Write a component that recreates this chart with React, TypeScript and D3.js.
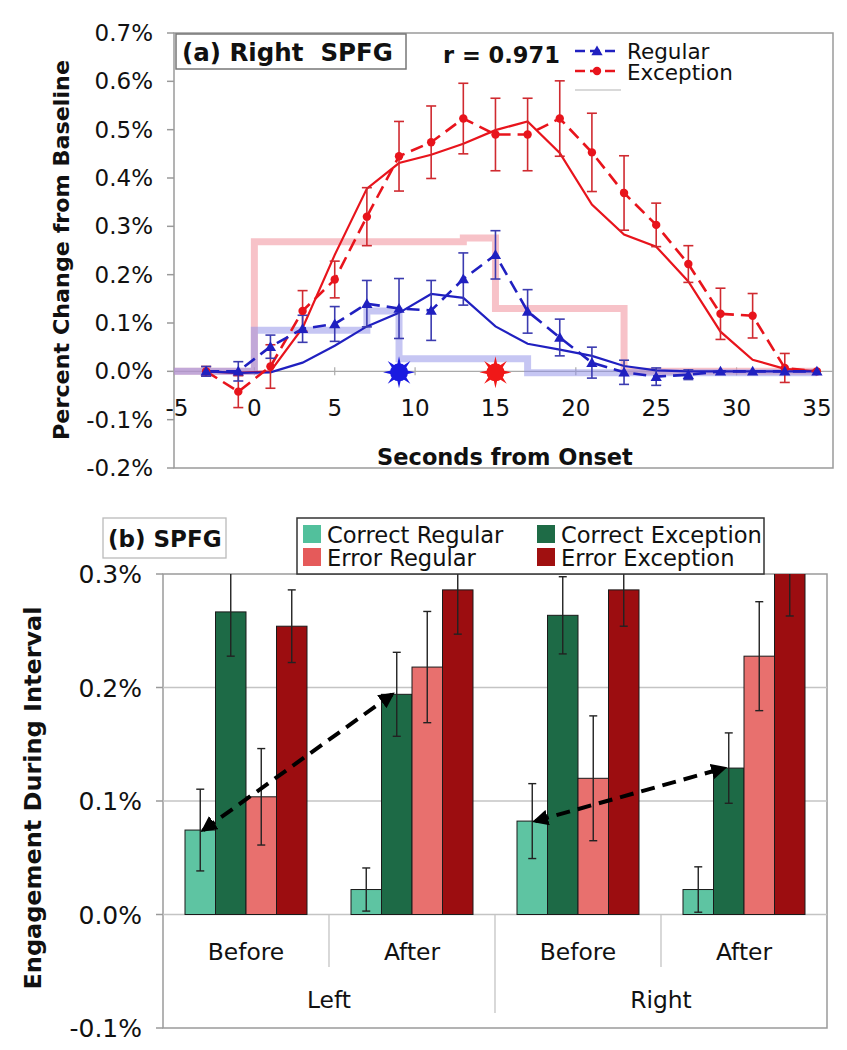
import React from "react";
import * as d3 from "d3";

// ---------- Panel (a) data ----------
const times = [-3, -1, 1, 3, 5, 7, 9, 11, 13, 15, 17, 19, 21, 23, 25, 27, 29, 31, 33, 35];
const excMean = [0, -0.042, 0.01, 0.125, 0.19, 0.32, 0.445, 0.474, 0.523, 0.49, 0.49, 0.523, 0.453, 0.369, 0.303, 0.222, 0.119, 0.115, 0.007, 0.0];
const excErr = [0.01, 0.033, 0.045, 0.042, 0.038, 0.06, 0.072, 0.075, 0.073, 0.075, 0.075, 0.078, 0.081, 0.077, 0.045, 0.038, 0.053, 0.046, 0.03, 0];
const regMean = [0, 0, 0.051, 0.088, 0.098, 0.14, 0.13, 0.126, 0.191, 0.241, 0.124, 0.07, 0.018, -0.002, -0.011, -0.007, 0, 0, 0, 0];
const regErr = [0.01, 0.02, 0.024, 0.028, 0.036, 0.048, 0.062, 0.062, 0.054, 0.05, 0.045, 0.038, 0.032, 0.025, 0.018, 0.01, 0, 0, 0, 0];
const excModel = [0, -0.003, 0, 0.09, 0.241, 0.378, 0.431, 0.448, 0.471, 0.499, 0.517, 0.452, 0.345, 0.283, 0.258, 0.186, 0.082, 0.024, 0.005, 0];
const regModel = [0, -0.003, -0.002, 0.018, 0.053, 0.093, 0.121, 0.16, 0.152, 0.093, 0.057, 0.045, 0.032, 0.011, 0.002, 0, 0, 0, 0, 0];
const excStepT = [-5, 0, 13, 15, 23, 35];
const excStepV = [0, 0.268, 0.276, 0.13, 0, 0];
const regStepT = [-5, 0, 7, 9, 17, 35];
const regStepV = [0, 0.085, 0.125, 0.026, -0.003, -0.003];
const xTicksTop = [-5, 0, 5, 10, 15, 20, 25, 30, 35];
const yTicksTop = [-0.2, -0.1, 0, 0.1, 0.2, 0.3, 0.4, 0.5, 0.6, 0.7];
const regOnset = 9;
const excOnset = 15;

// ---------- Panel (b) data ----------
const intervals = ["Before", "After", "Before", "After"];
const hemis = ["Left", "Right"];
const seriesNames = ["Correct Regular", "Correct Exception", "Error Regular", "Error Exception"];
const correctRegular = [0.0744, 0.022, 0.0823, 0.022];
const correctRegularErr = [0.036, 0.019, 0.033, 0.02];
const correctException = [0.2666, 0.194, 0.2636, 0.129];
const correctExceptionErr = [0.039, 0.037, 0.034, 0.031];
const errorRegular = [0.1037, 0.218, 0.12, 0.2276];
const errorRegularErr = [0.0425, 0.049, 0.055, 0.048];
const errorException = [0.254, 0.286, 0.286, 0.31];
const errorExceptionErr = [0.032, 0.039, 0.032, 0.047];
const yTicksBot = [-0.1, 0, 0.1, 0.2, 0.3];

const FONT = "'DejaVu Sans', Verdana, sans-serif";
const RED = "#e8141c";
const BLUE = "#2020c0";

function starPath(cx: number, cy: number, r1: number, r2: number, n: number) {
  const pts: string[] = [];
  for (let i = 0; i < n * 2; i++) {
    const a = (Math.PI * i) / n - Math.PI / 2;
    const r = i % 2 === 0 ? r2 : r1;
    pts.push(`${cx + r * Math.cos(a)},${cy + r * Math.sin(a)}`);
  }
  return "M" + pts.join("L") + "Z";
}

export default function App() {
  // ----- panel (a) scales -----
  const xT = d3.scaleLinear().domain([-5, 36]).range([174, 833]);
  const yT = d3.scaleLinear().domain([-0.2, 0.7]).range([468, 33]);
  const line = d3
    .line<number>()
    .x((_, i) => xT(times[i]))
    .y((d) => yT(d));
  const stepLine = (ts: number[]) =>
    d3
      .line<number>()
      .curve(d3.curveStepAfter)
      .x((_, i) => xT(ts[i]))
      .y((d) => yT(d));
  const tri = d3.symbol(d3.symbolTriangle, 55)()!;

  // ----- panel (b) scales -----
  const yB = d3.scaleLinear().domain([-0.1, 0.3]).range([1028, 574]);
  const xG = d3.scaleBand<number>().domain([0, 1, 2, 3]).range([163, 827]);
  const xS = d3.scaleBand<number>().domain([0, 1, 2, 3]).range([22, 144]);
  const barVals = [correctRegular, correctException, errorRegular, errorException];
  const barErrs = [correctRegularErr, correctExceptionErr, errorRegularErr, errorExceptionErr];
  const barColors = ["#5ec4a2", "#1d6a46", "#e8706e", "#9c0d10"];
  const swatchColors = ["#52c09c", "#1e6b46", "#e55a5a", "#a01010"];
  const bw = xS.bandwidth();

  const arrowPts = (gFrom: number, gTo: number) => {
    const x1 = xG(gFrom)! + xS(0)! + bw * 0.6;
    const y1 = yB(correctRegular[gFrom]);
    const x2 = xG(gTo)! + xS(1)! + bw * 0.35;
    const y2 = yB(correctException[gTo]);
    return { x1, y1, x2, y2 };
  };
  const a1 = arrowPts(0, 1);
  const a2 = arrowPts(2, 3);

  return (
    <svg
      width={847}
      height={1050}
      style={{ position: "absolute", left: 0, top: 0, background: "#fff" }}
      fontFamily={FONT}
    >
      <defs>
        <clipPath id="clipTop">
          <rect x={174} y={33} width={659} height={435} />
        </clipPath>
        <clipPath id="clipBot">
          <rect x={163} y={574} width={664} height={454} />
        </clipPath>
        <marker id="ah" viewBox="0 0 10 10" refX="8" refY="5" markerWidth="16" markerHeight="16" markerUnits="userSpaceOnUse" orient="auto-start-reverse">
          <path d="M0,0 L10,5 L0,10 Z" fill="#000" />
        </marker>
      </defs>
      <rect x={0} y={0} width={847} height={1050} fill="#fff" />

      {/* ================= Panel (a) ================= */}
      <rect x={174} y={33} width={659} height={435} fill="none" stroke="#9a9a9a" strokeWidth={1.5} />
      {/* y ticks + labels */}
      {yTicksTop.map((t) => (
        <g key={"yt" + t}>
          <line x1={167} x2={174} y1={yT(t)} y2={yT(t)} stroke="#9a9a9a" strokeWidth={1.5} />
          <text x={153} y={yT(t) + 8} textAnchor="end" fontSize={23} fill="#111">
            {t.toFixed(1) + "%"}
          </text>
        </g>
      ))}
      {/* zero axis */}
      <line x1={174} x2={833} y1={yT(0)} y2={yT(0)} stroke="#aaaaaa" strokeWidth={1.2} />
      {xTicksTop.map((t) => (
        <g key={"xt" + t}>
          <line x1={xT(t)} x2={xT(t)} y1={yT(0) - 4} y2={yT(0) + 4} stroke="#aaaaaa" strokeWidth={1.2} />
          <text x={xT(t) + (t < 0 ? 3 : 0)} y={yT(0) + 45} textAnchor="middle" fontSize={23} fill="#111">
            {t}
          </text>
        </g>
      ))}

      <g clipPath="url(#clipTop)">
        {/* step (stimulus) lines */}
        <path d={stepLine(excStepT)(excStepV)!} fill="none" stroke="#f29aa4" strokeOpacity={0.6} strokeWidth={7} />
        <path d={stepLine(regStepT)(regStepV)!} fill="none" stroke="#8d8de8" strokeOpacity={0.5} strokeWidth={7} />

        {/* model lines */}
        <path d={line(excModel)!} fill="none" stroke={RED} strokeWidth={2.2} />
        <path d={line(regModel)!} fill="none" stroke={BLUE} strokeWidth={2.2} />

        {/* data dashed lines */}
        <path d={line(excMean)!} fill="none" stroke={RED} strokeWidth={2.6} strokeDasharray="13,7" />
        <path d={line(regMean)!} fill="none" stroke={BLUE} strokeWidth={2.6} strokeDasharray="13,7" />

        {/* error bars */}
        {times.map((t, i) =>
          excErr[i] > 0 ? (
            <g key={"ee" + t} stroke="#d02a30" strokeWidth={1.6}>
              <line x1={xT(t)} x2={xT(t)} y1={yT(excMean[i] + excErr[i])} y2={yT(excMean[i] - excErr[i])} />
              <line x1={xT(t) - 5} x2={xT(t) + 5} y1={yT(excMean[i] + excErr[i])} y2={yT(excMean[i] + excErr[i])} />
              <line x1={xT(t) - 5} x2={xT(t) + 5} y1={yT(excMean[i] - excErr[i])} y2={yT(excMean[i] - excErr[i])} />
            </g>
          ) : null
        )}
        {times.map((t, i) =>
          regErr[i] > 0 ? (
            <g key={"re" + t} stroke="#3b3bb0" strokeWidth={1.6}>
              <line x1={xT(t)} x2={xT(t)} y1={yT(regMean[i] + regErr[i])} y2={yT(regMean[i] - regErr[i])} />
              <line x1={xT(t) - 5} x2={xT(t) + 5} y1={yT(regMean[i] + regErr[i])} y2={yT(regMean[i] + regErr[i])} />
              <line x1={xT(t) - 5} x2={xT(t) + 5} y1={yT(regMean[i] - regErr[i])} y2={yT(regMean[i] - regErr[i])} />
            </g>
          ) : null
        )}
        {/* markers */}
        {times.map((t, i) => (
          <circle key={"em" + t} cx={xT(t)} cy={yT(excMean[i])} r={4.2} fill={RED} />
        ))}
        {times.map((t, i) => (
          <path key={"rm" + t} d={tri} transform={`translate(${xT(t)},${yT(regMean[i]) + 1})`} fill={BLUE} />
        ))}

        {/* onset stars */}
        <path d={starPath(xT(regOnset), yT(0) + 1, 6, 16, 8)} fill="#1a1ae0" />
        <circle cx={xT(regOnset)} cy={yT(0) + 1} r={9} fill="#1a1ae0" />
        <path d={starPath(xT(excOnset), yT(0) + 1, 6, 16, 8)} fill="#f01818" />
        <circle cx={xT(excOnset)} cy={yT(0) + 1} r={9} fill="#f01818" />
      </g>

      {/* title box */}
      <rect x={176} y={34} width={230} height={35} fill="#fff" stroke="#777" strokeWidth={1.5} />
      <text x={182} y={61} fontSize={24.5} fontWeight="bold" fill="#111" style={{ whiteSpace: "pre" }}>
        {"(a) Right  SPFG"}
      </text>
      <text x={443} y={63} fontSize={22.5} fontWeight="bold" fill="#111">
        r = 0.971
      </text>
      {/* legend */}
      <line x1={575} x2={617} y1={51} y2={51} stroke={BLUE} strokeWidth={2.6} strokeDasharray="10,5" />
      <path d={tri} transform="translate(597,52)" fill={BLUE} />
      <text x={627} y={59} fontSize={21.5} fill="#111">Regular</text>
      <line x1={575} x2={617} y1={71} y2={71} stroke={RED} strokeWidth={2.6} strokeDasharray="10,5" />
      <circle cx={597} cy={71} r={4.2} fill={RED} />
      <text x={627} y={80} fontSize={21.5} fill="#111">Exception</text>
      <line x1={575} x2={621} y1={90} y2={90} stroke="#cccccc" strokeWidth={1.5} />

      {/* axis titles */}
      <text x={505} y={465} textAnchor="middle" fontSize={22.5} fontWeight="bold" fill="#111">
        Seconds from Onset
      </text>
      <text
        transform="translate(69,250) rotate(-90)"
        textAnchor="middle"
        fontSize={22}
        fontWeight="bold"
        fill="#111"
        textLength={380}
        lengthAdjust="spacingAndGlyphs"
      >
        Percent Change from Baseline
      </text>

      {/* ================= Panel (b) ================= */}
      <rect x={163} y={574} width={664} height={454} fill="none" stroke="#9a9a9a" strokeWidth={1.5} />
      {yTicksBot.map((t) => (
        <g key={"yb" + t}>
          {t > -0.1 && t < 0.3 ? (
            <line x1={163} x2={827} y1={yB(t)} y2={yB(t)} stroke="#c4c4c4" strokeWidth={1.3} />
          ) : null}
          <line x1={156} x2={163} y1={yB(t)} y2={yB(t)} stroke="#9a9a9a" strokeWidth={1.5} />
          <text x={142} y={yB(t) + 9} textAnchor="end" fontSize={25} fill="#111">
            {t.toFixed(1) + "%"}
          </text>
        </g>
      ))}
      {/* category separators */}
      {[1, 2, 3].map((g) => (
        <line
          key={"sep" + g}
          x1={xG(g)!}
          x2={xG(g)!}
          y1={yB(0)}
          y2={g === 2 ? 1013 : 967}
          stroke="#c4c4c4"
          strokeWidth={1.3}
        />
      ))}
      {intervals.map((lab, g) => (
        <text key={"int" + g} x={xG(g)! + xG.bandwidth() / 2} y={960} textAnchor="middle" fontSize={23.4} fill="#111">
          {lab}
        </text>
      ))}
      {hemis.map((lab, h) => (
        <text key={"hem" + h} x={xG(h * 2 + 1)!} y={1008} textAnchor="middle" fontSize={23.4} fill="#111">
          {lab}
        </text>
      ))}

      <g clipPath="url(#clipBot)">
        {barVals.map((vals, s) =>
          vals.map((v, g) => (
            <rect
              key={`b${s}-${g}`}
              x={xG(g)! + xS(s)!}
              y={yB(v)}
              width={bw}
              height={yB(0) - yB(v)}
              fill={barColors[s]}
              stroke="#1a1a1a"
              strokeWidth={1}
            />
          ))
        )}
        {barVals.map((vals, s) =>
          vals.map((v, g) => {
            const cx = xG(g)! + xS(s)! + bw / 2;
            const e = barErrs[s][g];
            return (
              <g key={`e${s}-${g}`} stroke="#222" strokeWidth={1.4}>
                <line x1={cx} x2={cx} y1={yB(v + e)} y2={yB(v - e)} />
                <line x1={cx - 4} x2={cx + 4} y1={yB(v + e)} y2={yB(v + e)} />
                <line x1={cx - 4} x2={cx + 4} y1={yB(v - e)} y2={yB(v - e)} />
              </g>
            );
          })
        )}
      </g>

      {/* arrows */}
      {[a1, a2].map((a, i) => (
        <line
          key={"arr" + i}
          x1={a.x1}
          y1={a.y1}
          x2={a.x2}
          y2={a.y2}
          stroke="#000"
          strokeWidth={4}
          strokeDasharray="14,8"
          markerStart="url(#ah)"
          markerEnd="url(#ah)"
        />
      ))}

      {/* (b) title */}
      <rect x={103} y={518} width={123} height={40} fill="#fff" stroke="#bbbbbb" strokeWidth={1.3} />
      <text x={108} y={547} fontSize={23} fontWeight="bold" fill="#111">
        (b) SPFG
      </text>

      {/* legend */}
      <rect x={297} y={518} width={467} height={56} fill="#fff" stroke="#333" strokeWidth={1.5} />
      {seriesNames.map((name, s) => {
        const col = s === 0 || s === 2 ? 0 : 1;
        const row = s === 0 || s === 1 ? 0 : 1;
        const sx = col === 0 ? 303 : 537;
        const sy = row === 0 ? 525 : 548;
        return (
          <g key={"lg" + s}>
            <rect x={sx} y={sy} width={18} height={18} fill={swatchColors[s]} />
            <text x={sx + 24} y={sy + 18} fontSize={22.6} fill="#111">
              {name}
            </text>
          </g>
        );
      })}

      <text
        transform="translate(41,798) rotate(-90)"
        textAnchor="middle"
        fontSize={22.5}
        fontWeight="bold"
        fill="#111"
        textLength={383}
        lengthAdjust="spacingAndGlyphs"
      >
        Engagement During Interval
      </text>
    </svg>
  );
}
